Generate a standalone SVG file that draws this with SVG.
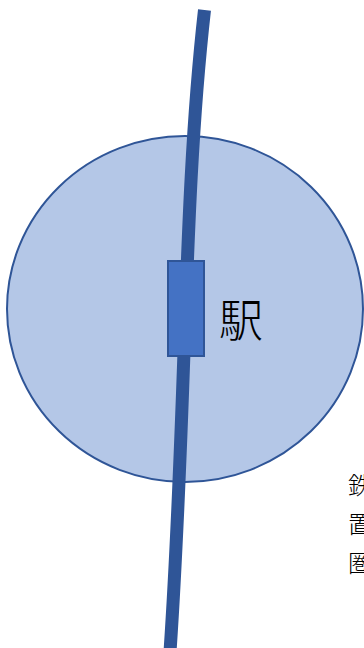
<svg xmlns="http://www.w3.org/2000/svg" width="364" height="648" viewBox="0 0 364 648">
<style>
.area{fill:#B4C7E7;stroke:#2F5597;stroke-width:2}
.rail{fill:none;stroke:#2F5597;stroke-width:13;stroke-linecap:butt}
.station{fill:#4472C4;stroke:#2F5597;stroke-width:2}
.lbl{font-family:"Noto Sans CJK JP","Noto Sans CJK SC",sans-serif;font-weight:300;fill:#000}
</style>
<rect width="364" height="648" fill="#fff"/>
<g id="area">
<ellipse class="area" cx="185" cy="309" rx="178" ry="173"/>
</g>
<g id="connectors">
<path class="rail" d="M204.5,10 C183,200 187,400 170,652"/>
</g>
<g id="station">
<rect class="station" x="168" y="261" width="36" height="95"/>
<text class="lbl" x="219" y="337" font-size="44">駅</text>
</g>
<g id="note">
<text class="lbl" x="348" y="494" font-size="24">鉄</text>
<text class="lbl" x="348" y="533" font-size="24">置</text>
<text class="lbl" x="348" y="572" font-size="24">圏</text>
</g>
</svg>
